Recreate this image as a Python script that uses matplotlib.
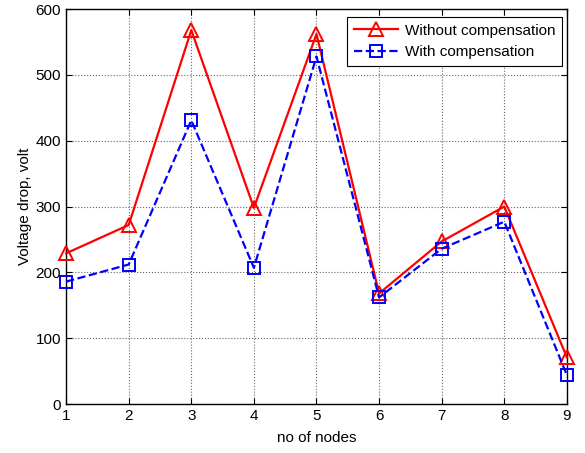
import matplotlib
matplotlib.use("Agg")
import matplotlib.pyplot as plt

nodes = [1, 2, 3, 4, 5, 6, 7, 8, 9]
without_comp = [229, 272, 568, 298, 562, 168, 247, 300, 71]
with_comp = [186, 212, 431, 207, 528, 162, 236, 277, 44]
yticks = [0, 100, 200, 300, 400, 500, 600]

plt.rcParams['font.family'] = ['Liberation Sans', 'DejaVu Sans']
fig = plt.figure(figsize=(5.85, 4.53), dpi=100)
ax = fig.add_axes([0.113, 0.108, 0.856, 0.872])

ax.plot(nodes, without_comp, color='red', linestyle='-', linewidth=1.6,
        marker='^', markersize=10, markerfacecolor='none', markeredgewidth=1.4,
        label='Without compensation', clip_on=False, zorder=3)
ax.plot(nodes, with_comp, color='blue', linestyle='--', linewidth=1.6,
        marker='s', markersize=8, markerfacecolor='none', markeredgewidth=1.4,
        label='With compensation', clip_on=False, zorder=3)

ax.set_xlim(1, 9)
ax.set_ylim(0, 600)
ax.set_xticks(nodes)
ax.set_yticks(yticks)
ax.grid(True, color='#666666', linestyle=':', linewidth=0.8)
ax.tick_params(direction='in', top=True, right=True, labelsize=11, length=4)
for s in ax.spines.values():
    s.set_linewidth(1.0)
    s.set_color('black')

ax.set_xlabel('no of nodes', fontsize=11, labelpad=6)
ax.set_ylabel('Voltage drop, volt', fontsize=11, labelpad=3)

leg = ax.legend(loc='upper right', bbox_to_anchor=(0.991, 0.98), fontsize=11,
                fancybox=False, framealpha=1, edgecolor='black',
                handlelength=2.9, handletextpad=0.45, borderaxespad=0.0,
                labelspacing=0.5, borderpad=0.45)
leg.get_frame().set_linewidth(0.8)

fig.savefig('out.png', dpi=100)
